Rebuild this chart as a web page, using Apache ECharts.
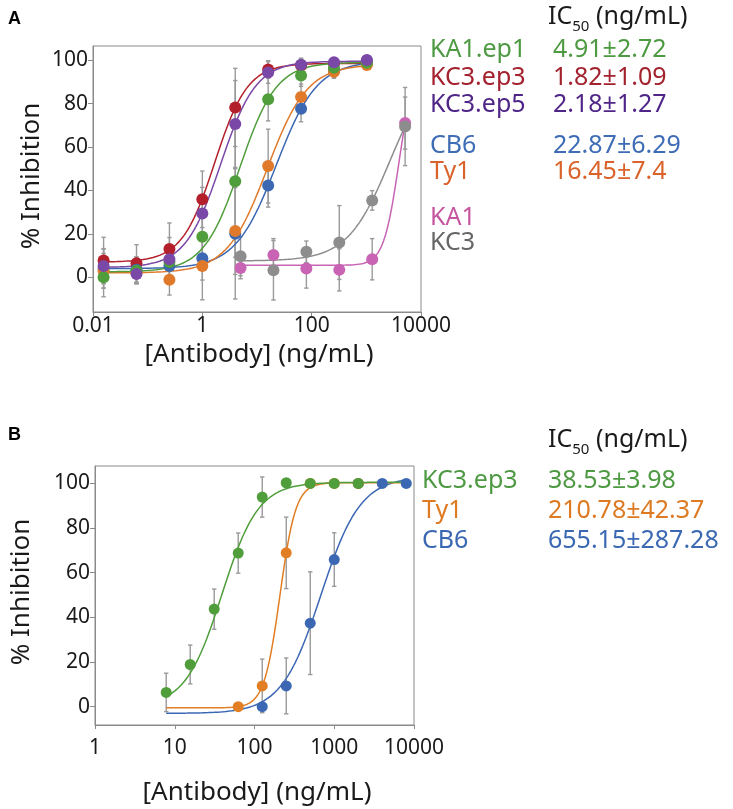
<!DOCTYPE html>
<html>
<head>
<meta charset="utf-8">
<script src="https://cdn.jsdelivr.net/npm/echarts@6/dist/echarts.min.js"></script>
<style>
html,body{margin:0;padding:0;background:#fff;}
#chart{width:733px;height:809px;}
</style>
</head>
<body>
<div id="chart"></div>
<script>
// ---------- Panel A data ----------
const concA = [0.015625, 0.0625, 0.25, 1, 4, 16, 64, 256, 1024];
const concA2 = [5, 20, 80, 320, 1280, 5120];
const ka1ep1A = [0, 3, 7, 18.7, 44.2, 82, 92.9, 96.5, 98.8];
const ka1ep1AErr = [9, 6, 8, 12, 35, 10, 5, 3, 2];
const kc3ep3A = [7.7, 6.4, 13, 35.9, 78.2, 95.7, 97.5, 98.5, 99];
const kc3ep3AErr = [10.7, 8.6, 12, 13, 18, 4, 3, 2, 2];
const kc3ep5A = [5.2, 1.5, 8.3, 29.4, 70.6, 94.3, 97.9, 99, 100];
const kc3ep5AErr = [8, 4, 10, 12, 20, 5, 3, 2, 2];
const cb6A = [4, 3.5, 5.2, 8.7, 20, 42.3, 77.6, 95, 99.7];
const cb6AErr = [9, 6, 7, 10, 30, 10, 6, 3, 2];
const ty1A = [3, 2, -1.2, 5.2, 21.3, 51.2, 83, 94.6, 97.7];
const ty1AErr = [8, 5, 7, 15.6, 20, 17, 6, 3, 2];
const ka1A = [4.3, 10.3, 4, 3.4, 8.3, 71];
const ka1AErr = [5, 7.5, 9, 9.7, 9.5, 12];
const kc3A = [9.7, 3.2, 11.7, 16, 35.4, 69.4];
const kc3AErr = [9, 13.7, 5, 17, 4.5, 18];
// fitted 4PL parameters: [bottom, top, IC50, hill]
const fitKa1ep1A = [2.5, 99, 4.89, 1.305];
const fitKc3ep3A = [7, 98.5, 1.683, 1.443];
const fitKc3ep5A = [4.5, 99.5, 2.16, 1.344];
const fitCb6A = [4, 99.5, 22.6, 1.164];
const fitTy1A = [2, 98, 15.35, 1.181];
const fitKa1A = [5.5, 100, 3943, 3.1];
const fitKc3A = [7.5, 100, 2719, 1.115];
const ic50LabelsA = ['KA1.ep1', 'KC3.ep3', 'KC3.ep5', 'CB6', 'Ty1', 'KA1', 'KC3'];
const ic50ValuesA = ['4.91±2.72', '1.82±1.09', '2.18±1.27', '22.87±6.29', '16.45±7.4', '', ''];

// ---------- Panel B data ----------
const concB = [7.8125, 15.625, 31.25, 62.5, 125, 250, 500, 1000, 2000, 4000, 8000];
const kc3ep3B = [6.4, 18.9, 43.7, 68.8, 93.9, 100.3, 100, 100, 100];
const kc3ep3BErr = [8.6, 8.7, 9, 9, 9, 0.5, 0.5, 0.5, 0.5];
const ty1BConc = [62.5, 125, 250, 500, 1000, 2000];
const ty1B = [0, 9.3, 68.9, 100, 100, 100];
const ty1BErr = [0.5, 12, 16, 0.5, 0.5, 0.5];
const cb6BConc = [125, 250, 500, 1000, 2000, 4000, 8000];
const cb6B = [0, 9.3, 37.4, 65.9, 100, 100, 100];
const cb6BErr = [0.5, 12.5, 23, 12, 0.5, 0.5, 0.5];
const fitKc3ep3B = [0, 100.5, 39, 1.9];
const fitTy1B = [-0.5, 100.3, 208.5, 4.36];
const fitCb6B = [-3, 103, 680, 1.75];
const ic50LabelsB = ['KC3.ep3', 'Ty1', 'CB6'];
const ic50ValuesB = ['38.53±3.98', '210.78±42.37', '655.15±287.28'];

const yTicks = [0, 20, 40, 60, 80, 100];

// ---------- helpers ----------
function zip(xs, ys) { return xs.map((x, i) => [x, ys[i]]); }
function zip3(xs, ys, es) { return xs.map((x, i) => [x, ys[i], es[i]]); }
function fitCurve(p, x0, x1) {
  const out = [];
  const n = 160;
  const l0 = Math.log10(x0), l1 = Math.log10(x1);
  for (let i = 0; i <= n; i++) {
    const x = Math.pow(10, l0 + (l1 - l0) * i / n);
    out.push([x, p[0] + (p[1] - p[0]) / (1 + Math.pow(p[2] / x, p[3]))]);
  }
  return out;
}
function errRender(params, api) {
  const x = api.value(0), y = api.value(1), e = api.value(2);
  const lo = api.coord([x, y - e]), hi = api.coord([x, y + e]);
  const w = 2.2;
  const st = { stroke: '#9a9a9a', lineWidth: 1.4 };
  return {
    type: 'group', children: [
      { type: 'line', shape: { x1: lo[0], y1: lo[1], x2: hi[0], y2: hi[1] }, style: st },
      { type: 'line', shape: { x1: lo[0] - w, y1: lo[1], x2: lo[0] + w, y2: lo[1] }, style: st },
      { type: 'line', shape: { x1: hi[0] - w, y1: hi[1], x2: hi[0] + w, y2: hi[1] }, style: st }
    ]
  };
}

const C = {
  green: '#4f9e3b', red: '#b3202b', purple: '#7a48a6', blue: '#3b67b3',
  orange: '#e07a2a', pink: '#c864b3', gray: '#8d8d8d', bOrange: '#e27e23'
};

const series = [];
function addGroup(grid, name, xs, ys, es, fit, fx0, fx1, color, size, zBase) {
  series.push({
    type: 'custom', xAxisIndex: grid, yAxisIndex: grid, renderItem: errRender,
    data: zip3(xs, ys, es), z: 1, silent: true, clip: false
  });
  series.push({
    type: 'line', name: name, xAxisIndex: grid, yAxisIndex: grid, data: fitCurve(fit, fx0, fx1),
    showSymbol: false, symbol: 'none', lineStyle: { color: color, width: 1.5 }, z: 2 + zBase * 0.01, silent: true
  });
  series.push({
    type: 'scatter', name: name, xAxisIndex: grid, yAxisIndex: grid, data: zip(xs, ys),
    symbolSize: size, itemStyle: { color: color, opacity: 1 }, z: 3 + zBase * 0.01, silent: true
  });
}
// Panel A (draw order bottom -> top)
addGroup(0, 'KC3.ep3', concA, kc3ep3A, kc3ep3AErr, fitKc3ep3A, concA[0], concA[8], C.red, 12, 1);
addGroup(0, 'CB6', concA, cb6A, cb6AErr, fitCb6A, concA[0], concA[8], C.blue, 12, 2);
addGroup(0, 'Ty1', concA, ty1A, ty1AErr, fitTy1A, concA[0], concA[8], C.orange, 12, 3);
addGroup(0, 'KA1.ep1', concA, ka1ep1A, ka1ep1AErr, fitKa1ep1A, concA[0], concA[8], C.green, 12, 4);
addGroup(0, 'KC3.ep5', concA, kc3ep5A, kc3ep5AErr, fitKc3ep5A, concA[0], concA[8], C.purple, 12, 5);
addGroup(0, 'KA1', concA2, ka1A, ka1AErr, fitKa1A, concA2[0], concA2[5], C.pink, 12, 6);
addGroup(0, 'KC3', concA2, kc3A, kc3AErr, fitKc3A, concA2[0], concA2[5], C.gray, 12, 7);
// Panel B
addGroup(1, 'CB6', cb6BConc, cb6B, cb6BErr, fitCb6B, concB[0], concB[10], C.blue, 11, 1);
addGroup(1, 'Ty1', ty1BConc, ty1B, ty1BErr, fitTy1B, concB[0], concB[10], C.bOrange, 11, 2);
addGroup(1, 'KC3.ep3', concB.slice(0, 9), kc3ep3B, kc3ep3BErr, fitKc3ep3B, concB[0], concB[10], C.green, 11, 3);

const FONT = '"Noto Sans", "Open Sans", sans-serif';
const axisCommon = {
  axisLine: { show: true, onZero: false, lineStyle: { color: '#8a8a8a', width: 1 } },
  axisTick: { show: true, length: 4, lineStyle: { color: '#8a8a8a' } },
  splitLine: { show: false },
  axisLabel: { color: '#1a1a1a', fontSize: 21, fontFamily: FONT }
};
function xLog(grid, min, max, interval, margin) {
  return Object.assign({}, axisCommon, {
    type: 'log', logBase: 10, gridIndex: grid, min: min, max: max, interval: interval,
    axisLabel: Object.assign({}, axisCommon.axisLabel, {
      margin: margin,
      formatter: v => (v < 1 ? Number(v).toFixed(2) : String(Math.round(v)))
    })
  });
}
function yLin(grid, min, max) {
  return Object.assign({}, axisCommon, {
    type: 'value', gridIndex: grid, min: min, max: max,
    axisTick: { show: true, length: 5, customValues: yTicks, lineStyle: { color: '#8a8a8a' } },
    axisLabel: Object.assign({}, axisCommon.axisLabel, { customValues: yTicks, margin: 5 })
  });
}

const legendColorsA = ['#4e9a43', '#a3222e', '#4f2688', '#3e6cb5', '#d9632b', '#c6559f', '#666666'];
const legendYA = [50, 78, 105, 146, 172, 218, 243];
const legendColorsB = ['#4e9a43', '#dd7a22', '#3a68b2'];
const legendYB = [481, 511, 541];

const graphic = [];
function txt(x, y, s, color, size, extra) {
  graphic.push(Object.assign({
    type: 'text', x: x, y: y,
    style: { text: s, fill: color, font: size + 'px ' + FONT, textAlign: 'left', textVerticalAlign: 'middle' }
  }, extra || {}));
}
ic50LabelsA.forEach((s, i) => {
  txt(430, legendYA[i], s, legendColorsA[i], 25);
  if (ic50ValuesA[i]) txt(553, legendYA[i], ic50ValuesA[i], legendColorsA[i], 25);
});
ic50LabelsB.forEach((s, i) => {
  txt(422, legendYB[i], s, legendColorsB[i], 25);
  txt(548, legendYB[i], ic50ValuesB[i], legendColorsB[i], 25);
});
function ic50Title(x, y) {
  graphic.push({
    type: 'text', x: x, y: y,
    style: {
      text: '{a|IC}{s|50}{a| (ng/mL)}',
      textAlign: 'left', textVerticalAlign: 'middle',
      rich: {
        a: { fontSize: 25, fontFamily: FONT, fill: '#1a1a1a', color: '#1a1a1a', lineHeight: 34, verticalAlign: 'middle' },
        s: { fontSize: 15, fontFamily: FONT, fill: '#1a1a1a', color: '#1a1a1a', lineHeight: 34, verticalAlign: 'bottom' }
      }
    }
  });
}
ic50Title(548, 17);
ic50Title(548, 440);
// panel letters
graphic.push({ type: 'text', x: 8, y: 19, style: { text: 'A', fill: '#000', font: 'bold 18px "Liberation Sans", Arial, sans-serif', textVerticalAlign: 'middle' } });
graphic.push({ type: 'text', x: 8, y: 435, style: { text: 'B', fill: '#000', font: 'bold 18px "Liberation Sans", Arial, sans-serif', textVerticalAlign: 'middle' } });
// axis titles
function centered(x, y, s, rot) {
  graphic.push({
    type: 'text', x: x, y: y, rotation: rot || 0,
    style: { text: s, fill: '#1a1a1a', font: '26px ' + FONT, textAlign: 'center', textVerticalAlign: 'middle' }
  });
}
centered(259, 355, '[Antibody] (ng/mL)');
centered(257, 793, '[Antibody] (ng/mL)');
centered(32, 176, '% Inhibition', Math.PI / 2);
centered(22, 592, '% Inhibition', Math.PI / 2);

const option = {
  animation: false,
  backgroundColor: '#ffffff',
  grid: [
    { left: 93, top: 46, width: 328, height: 266, show: true, borderColor: '#8a8a8a', borderWidth: 1, backgroundColor: 'transparent' },
    { left: 95, top: 466, width: 319, height: 259, show: true, borderColor: '#8a8a8a', borderWidth: 1, backgroundColor: 'transparent' }
  ],
  xAxis: [xLog(0, 0.01, 10000, 2, 4), xLog(1, 1, 10000, 1, 13)],
  yAxis: [yLin(0, -16, 106.5), yLin(1, -8.2, 107.8)],
  series: series,
  graphic: graphic
};
const chart = echarts.init(document.getElementById('chart'), null, { renderer: 'canvas' });
chart.setOption(option);
</script>
</body>
</html>
